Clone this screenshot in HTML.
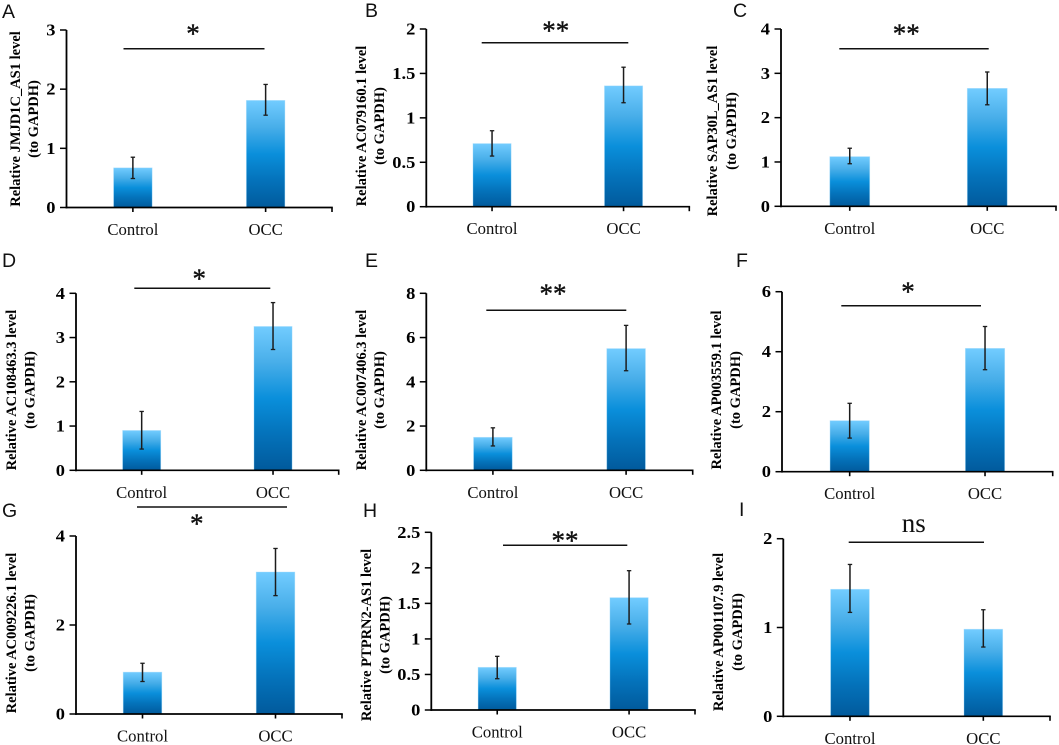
<!DOCTYPE html>
<html lang="en">
<head>
<meta charset="utf-8">
<title>Relative lncRNA levels, Control vs OCC</title>
<style>
  html, body { margin: 0; padding: 0; background: #fff; }
  #figure { display: block; width: 1059px; height: 745px; }
  text { font-family: "Liberation Serif", "DejaVu Serif", serif; fill: #000; }
  .panel-letter { font-family: "Liberation Sans", "DejaVu Sans", sans-serif; font-size: 19.5px; fill: #111; }
  .y-title { font-size: 14.5px; font-weight: bold; text-anchor: middle; }
  .tick { font-size: 16.5px; font-weight: bold; text-anchor: end; }
  .cat { font-size: 16.7px; text-anchor: middle; fill: #111; }
  .sig { font-size: 27px; text-anchor: middle; fill: #111; }
  .sig-star { stroke: #111; stroke-width: 0.4px; }
</style>
</head>
<body>
<svg id="figure" xmlns="http://www.w3.org/2000/svg" width="1059" height="745" viewBox="0 0 1059 745">
  <defs>
    <linearGradient id="barFill" x1="0" y1="0" x2="0" y2="1">
      <stop offset="0" stop-color="#72ccff"/>
      <stop offset="0.25" stop-color="#48aee9"/>
      <stop offset="0.5" stop-color="#0a8fdb"/>
      <stop offset="0.75" stop-color="#0472ba"/>
      <stop offset="1" stop-color="#015a9c"/>
    </linearGradient>
  </defs>
</svg>
<script>
// ---- Data (one entry per panel, A to I) ----
const panelLetters = ['A', 'B', 'C', 'D', 'E', 'F', 'G', 'H', 'I'];
const geneTitles = [
  'Relative JMJD1C_AS1 level', 'Relative AC079160.1 level', 'Relative SAP30L_AS1 level',
  'Relative AC108463.3 level', 'Relative AC007406.3 level', 'Relative AP003559.1 level',
  'Relative AC009226.1 level', 'Relative PTPRN2-AS1 level', 'Relative AP001107.9 level'
];
const titleSecondLine = '(to GAPDH)';
const categories = ['Control', 'OCC'];
const yTickValues = [
  [0, 1, 2, 3], [0, 0.5, 1, 1.5, 2], [0, 1, 2, 3, 4],
  [0, 1, 2, 3, 4], [0, 2, 4, 6, 8], [0, 2, 4, 6],
  [0, 2, 4], [0, 0.5, 1, 1.5, 2, 2.5], [0, 1, 2]
];
const controlValues = [0.67, 0.71, 1.12, 0.90, 1.49, 1.70, 0.94, 0.60, 1.43];
const controlUpper  = [0.85, 0.855, 1.31, 1.33, 1.92, 2.28, 1.14, 0.755, 1.71];
const controlLower  = [0.49, 0.57, 0.96, 0.48, 1.10, 1.12, 0.73, 0.44, 1.17];
const occValues = [1.81, 1.36, 2.66, 3.25, 5.50, 4.11, 3.19, 1.58, 0.98];
const occUpper  = [2.08, 1.57, 3.03, 3.79, 6.55, 4.84, 3.72, 1.96, 1.20];
const occLower  = [1.56, 1.17, 2.29, 2.73, 4.50, 3.40, 2.66, 1.21, 0.78];
const significance = ['*', '**', '**', '*', '**', '*', '*', '**', 'ns'];

// ---- Layout of each panel (not data) ----
const frames = [
  { x0: 66.5,  x1: 332,    top: 30,    base: 207.5, lx: 2,   ly: 18,  tx1: 15,  tx2: 33,    ty: 119, sx0: 123.5, sx1: 264.5, sy: 48.7,  mx: 193,   my: 30 },
  { x0: 426.3, x1: 689.3,  top: 29,    base: 206.7, lx: 365, ly: 17,  tx1: 361, tx2: 379,   ty: 126, sx0: 481.7, sx1: 628.3, sy: 42.7,  mx: 555.7, my: 27 },
  { x0: 781,   x1: 1056,   top: 29,    base: 206.3, lx: 733, ly: 17,  tx1: 712, tx2: 731,   ty: 131, sx0: 839.3, sx1: 988.7, sy: 48.7,  mx: 906.3, my: 30 },
  { x0: 76,    x1: 338.7,  top: 293.3, base: 470.3, lx: 2,   ly: 267, tx1: 11,  tx2: 29.3,  ty: 390, sx0: 134.3, sx1: 270.3, sy: 288.3, mx: 199.3, my: 275 },
  { x0: 426.3, x1: 692.7,  top: 293.3, base: 470.3, lx: 365, ly: 267, tx1: 361, tx2: 379,   ty: 390, sx0: 486.3, sx1: 626.3, sy: 310.3, mx: 553,   my: 290 },
  { x0: 782,   x1: 1052.7, top: 291.7, base: 471.7, lx: 736, ly: 267, tx1: 716, tx2: 734.7, ty: 390, sx0: 841.3, sx1: 981,   sy: 305.7, mx: 908,   my: 288 },
  { x0: 76,    x1: 342,    top: 536,   base: 714,   lx: 2,   ly: 517, tx1: 11,  tx2: 29.3,  ty: 633, sx0: 137,   sx1: 287,   sy: 507,   mx: 196.7, my: 520 },
  { x0: 431.3, x1: 695,    top: 532.3, base: 710,   lx: 363, ly: 517, tx1: 366, tx2: 384.3, ty: 635, sx0: 503,   sx1: 627.3, sy: 545.3, mx: 565,   my: 536.7 },
  { x0: 783.3, x1: 1050,   top: 538.7, base: 716.3, lx: 739, ly: 516, tx1: 718, tx2: 737,   ty: 632, sx0: 848.7, sx1: 984,   sy: 542.3, mx: 913.7, my: 532 }
];

const NS = 'http://www.w3.org/2000/svg';
const svg = document.getElementById('figure');

function mk(tag, attrs, parent, txt) {
  const el = document.createElementNS(NS, tag);
  for (const k in attrs) el.setAttribute(k, attrs[k]);
  if (txt !== undefined) el.textContent = txt;
  parent.appendChild(el);
  return el;
}
function seg(parent, x1, y1, x2, y2, color, width) {
  return mk('line', { x1: x1, y1: y1, x2: x2, y2: y2, stroke: color, 'stroke-width': width }, parent);
}

panelLetters.forEach(function (letter, i) {
  const f = frames[i];
  const ticks = yTickValues[i];
  const yMax = Math.max.apply(null, ticks);
  const yScale = function (v) { return f.base - (v / yMax) * (f.base - f.top); };
  const band = (f.x1 - f.x0) / 2;
  const xScale = function (c) { return f.x0 + band * (c + 0.5); };
  const barWidth = band * 0.29;

  const g = mk('g', {}, svg);
  
  

  const letterEl = mk('text', { class: 'panel-letter', x: f.lx, y: f.ly }, g, letter);
  
  

  const title1 = mk('text', { class: 'y-title', dy: '0.35em', transform: 'translate(' + f.tx1 + ',' + f.ty + ') rotate(-90)' }, g, geneTitles[i]);
  
  

  const title2 = mk('text', { class: 'y-title', dy: '0.35em', transform: 'translate(' + f.tx2 + ',' + f.ty + ') rotate(-90)' }, g, titleSecondLine);
  
  

  const means = [controlValues[i], occValues[i]];
  const uppers = [controlUpper[i], occUpper[i]];
  const lowers = [controlLower[i], occLower[i]];

  categories.forEach(function (cat, c) {
    const cx = xScale(c);
    const barTop = yScale(means[c]);
    const bar = mk('rect', {
      x: cx - barWidth / 2, y: barTop, width: barWidth, height: f.base - barTop,
      fill: 'url(#barFill)', stroke: '#9ad8fa', 'stroke-opacity': 0.45, 'stroke-width': 0.8
    }, g);
    
    

    const err = mk('g', { }, g);
    
    
    const yu = yScale(uppers[c]);
    const yl = yScale(lowers[c]);
    seg(err, cx, yu, cx, yl, '#1c1c1c', 1.5);
    seg(err, cx - 2.2, yu, cx + 2.2, yu, '#1c1c1c', 1.3);
    seg(err, cx - 2.2, yl, cx + 2.2, yl, '#1c1c1c', 1.3);

    const xTick = seg(g, cx, f.base, cx, f.base + 4.5, '#000', 1.6);
    
    

    const catLabel = mk('text', { class: 'cat', x: cx, y: f.base + 27.5 }, g, cat);
    
    
  });

  const endTick = seg(g, f.x1, f.base, f.x1, f.base + 4.5, '#000', 1.6);
  
  

  const yAxis = seg(g, f.x0, f.top, f.x0, f.base + 0.9, '#000', 1.8);
  
  

  const xAxis = seg(g, f.x0 - 0.9, f.base, f.x1 + 0.8, f.base, '#000', 1.7);
  
  

  ticks.forEach(function (t) {
    const ty = yScale(t);
    const tick = seg(g, f.x0 - 6.5, ty, f.x0, ty, '#000', 1.5);
    
    

    const lab = mk('text', { class: 'tick', transform: 'translate(' + (f.x0 - 11) + ',' + (ty + 5.5) + ') scale(1.12,1)' }, g, String(t));
    
    
  });

  const sigLine = seg(g, f.sx0, f.sy, f.sx1, f.sy, '#111', 1.5);
  
  

  const mark = significance[i];
  const markY = mark === 'ns' ? f.my : f.my + 12.7;
  const sigMark = mk('text', { class: mark === 'ns' ? 'sig' : 'sig sig-star', x: f.mx, y: markY }, g, mark);
  
  
});
</script>
</body>
</html>
